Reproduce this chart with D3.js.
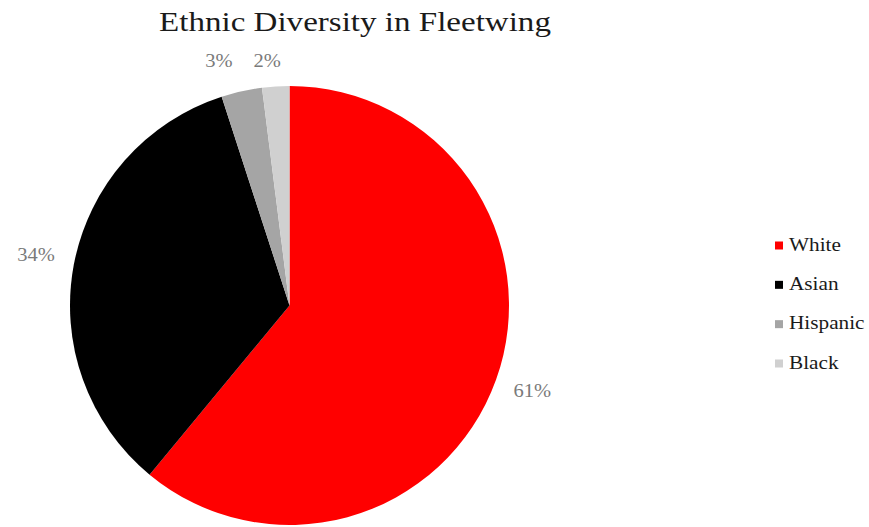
<!DOCTYPE html>
<html>
<head>
<meta charset="utf-8">
<script src="https://cdn.jsdelivr.net/npm/d3@7"></script>
<style>
  html, body { margin: 0; padding: 0; background: #ffffff; }
  svg { display: block; }
  text { font-family: "Liberation Serif", "Times New Roman", serif; }
</style>
</head>
<body>
<svg id="chart" width="869" height="527"></svg>
<script>
// ---- data ----
const title = "Ethnic Diversity in Fleetwing";
const categories = ["White", "Asian", "Hispanic", "Black"];
const values = [61, 34, 3, 2];
const colors = ["#ff0000", "#000000", "#a5a5a5", "#d0d0d0"];

// ---- layout ----
const W = 869, H = 527;
const cx = 289.5, cy = 305.5, R = 219.5;
const stretch = 1.18; // horizontal widening to approximate the Garamond face

const svg = d3.select("#chart");

function widen(sel, factor) {
  sel.each(function () {
    const len = this.getComputedTextLength();
    d3.select(this).attr("textLength", len * factor).attr("lengthAdjust", "spacingAndGlyphs");
  });
}

// title
const t = svg.append("text")
  .attr("x", 355).attr("y", 31)
  .attr("text-anchor", "middle")
  .attr("font-size", 28)
  .attr("fill", "#1a1a1a")
  .text(title);
widen(t, stretch);

// pie
const data = categories.map((c, i) => ({ cat: c, value: values[i], color: colors[i] }));
const pie = d3.pie().sort(null).value(d => d.value).startAngle(0).endAngle(2 * Math.PI);
const arcs = pie(data);
const arc = d3.arc().innerRadius(0).outerRadius(R);

const g = svg.append("g").attr("transform", `translate(${cx},${cy})`);
g.selectAll("path.slice")
  .data(arcs)
  .join("path")
  .attr("class", "slice")
  .attr("d", arc)
  .attr("fill", d => d.data.color);

// labels
const total = d3.sum(values);
const labelArc = d3.arc().innerRadius(258).outerRadius(258);
const labels = g.selectAll("text.lbl")
  .data(arcs)
  .join("text")
  .attr("class", "lbl")
  .attr("text-anchor", "middle")
  .attr("font-size", 19)
  .attr("fill", "#7a7a7a")
  .attr("x", d => {
    const c = labelArc.centroid(d);
    const small = (d.endAngle - d.startAngle) < 0.2;
    return small ? c[0] * 1.2 - 3 : c[0];
  })
  .attr("y", d => {
    const c = labelArc.centroid(d);
    return Math.max(c[1], -R - 23) + 4;
  })
  .text(d => Math.round(d.data.value / total * 100) + "%");
widen(labels, 1.08);

// legend
const legendY = d3.scalePoint().domain(categories).range([250.5, 368.5]);
const lg = svg.append("g");
const items = lg.selectAll("g.item").data(data).join("g").attr("class", "item")
  .attr("transform", d => `translate(0,${legendY(d.cat)})`);
items.append("rect")
  .attr("x", 775).attr("y", -9).attr("width", 8).attr("height", 8)
  .attr("fill", d => d.color);
const lt = items.append("text")
  .attr("x", 789).attr("y", 0)
  .attr("font-size", 18)
  .attr("fill", "#1a1a1a")
  .text(d => d.cat);
widen(lt, stretch);
</script>
</body>
</html>
